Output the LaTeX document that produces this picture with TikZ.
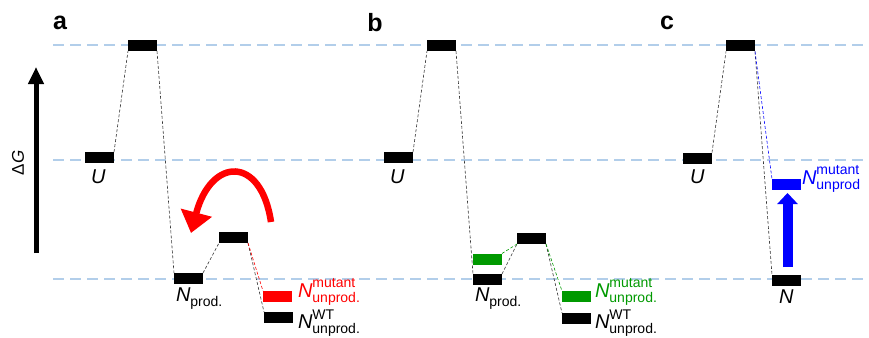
\documentclass[tikz,border=0pt]{standalone}
\usepackage{fontspec}
\setmainfont{Liberation Sans}
\usetikzlibrary{arrows.meta}

\definecolor{guideblue}{RGB}{178,206,234}
\definecolor{mutred}{RGB}{255,0,0}
\definecolor{mutgreen}{RGB}{0,153,0}
\definecolor{mutblue}{RGB}{0,0,255}

% italic state letter, and the small upright indices beside it
\newcommand{\stateN}[1]{{\fontsize{20}{20}\selectfont\itshape #1}}
\newcommand{\smallidx}[1]{{\fontsize{14}{14}\selectfont #1}}
\newcommand{\indexpair}[2]{\rlap{\raisebox{9.5pt}{\smallidx{#1}}}\raisebox{-5pt}{\smallidx{#2}}}
\newcommand{\lowidx}[1]{\raisebox{-5pt}{\smallidx{#1}}}

\begin{document}
\begin{tikzpicture}[x=1pt,y=-1pt,
  level/.style={fill=#1, draw=none, minimum width=29pt, minimum height=11pt,
                inner sep=0pt, outer sep=0pt},
  level/.default=black,
  guide/.style={guideblue, line width=2pt, dash pattern=on 11pt off 6pt},
  link/.style={#1, line width=0.6pt, dash pattern=on 3pt off 2pt},
  link/.default=black!80,
  txt/.style={inner sep=0pt, outer sep=0pt, anchor=base west},
  panel/.style={inner sep=0pt, font=\fontsize{25}{25}\selectfont\bfseries}]

\useasboundingbox (0,0) rectangle (869,337);

% horizontal reference energies
\coordinate (gTopL) at (53,45);  \coordinate (gTopR) at (869,45);
\coordinate (gMidL) at (53,160); \coordinate (gMidR) at (869,160);
\coordinate (gBotL) at (53,279); \coordinate (gBotR) at (869,279);
\draw[guide] (gTopL) -- (gTopR);
\draw[guide] (gMidL) -- (gMidR);
\draw[guide] (gBotL) -- (gBotR);

% free-energy axis
\coordinate (dGbot) at (36,253);
\coordinate (dGtop) at (36,67);
\draw[line width=5pt, -{Triangle[length=17pt,width=15pt]}] (dGbot) -- (dGtop);
\node[rotate=90, inner sep=0pt, font=\fontsize{17}{17}\selectfont] (dG) at (18,163) {Δ\textit{G}};

% panel letters
\node[panel] (pa) at (60,23) {a};
\node[panel] (pb) at (375,23) {b};
\node[panel] (pc) at (667,23) {c};

% ---------------- panel a ----------------
\node[level] (Ua)  at (99.5,157.5) {};
\node[level] (Ta)  at (142.5,45.5) {};
\node[level] (Pa)  at (188.5,278.5) {};
\node[level] (T2a) at (233.5,237.5) {};
\node[level=mutred] (Ma) at (277.5,296.5) {};
\node[level] (Wa)  at (278.5,317.5) {};

\draw[link] (Ua.north east) -- (Ta.south west);
\draw[link] (Ta.south east) -- (Pa.north west);
\draw[link] (Pa.north east) -- (T2a.south west);
\draw[link] (T2a.south east) -- (Wa.north west);
\draw[link=mutred] (T2a.south east) -- (Ma.north west);

\node[txt] (labUa) at (91,183) {\stateN{U}};
\node[txt] (labPa) at (176,301) {\stateN{N}\lowidx{prod.}};
\node[txt, text=mutred] (labMa) at (298,297) {\stateN{N}\indexpair{mutant}{unprod.}};
\node[txt] (labWa) at (298,328.5) {\stateN{N}\indexpair{WT}{unprod.}};

\coordinate (swS) at (271,222);
\coordinate (swE) at (191,233);
\draw[mutred, line width=6.5pt, -{Triangle[length=21pt,width=31pt]}]
  (swS) .. controls (261,155) and (211,157) .. (swE);

% ---------------- panel b ----------------
\node[level] (Ub)  at (398.5,157.5) {};
\node[level] (Tb)  at (441.5,45.5) {};
\node[level] (Pb)  at (487.5,279.5) {};
\node[level=mutgreen] (Gb) at (487.5,259) {};
\node[level] (T2b) at (531.5,238.5) {};
\node[level=mutgreen] (Mb) at (576.5,296.5) {};
\node[level] (Wb)  at (576.5,318.5) {};

\draw[link] (Ub.north east) -- (Tb.south west);
\draw[link] (Tb.south east) -- (Pb.north west);
\draw[link] (Pb.north east) -- (T2b.south west);
\draw[link=mutgreen] (Gb.north east) -- (T2b.south west);
\draw[link] (T2b.south east) -- (Wb.north west);
\draw[link=mutgreen] (T2b.south east) -- (Mb.north west);

\node[txt] (labUb) at (390,183) {\stateN{U}};
\node[txt] (labPb) at (475,301) {\stateN{N}\lowidx{prod.}};
\node[txt, text=mutgreen] (labMb) at (595,297) {\stateN{N}\indexpair{mutant}{unprod.}};
\node[txt] (labWb) at (595,328.5) {\stateN{N}\indexpair{WT}{unprod.}};

% ---------------- panel c ----------------
\node[level] (Uc) at (697.5,158) {};
\node[level] (Tc) at (740.5,46) {};
\node[level] (Nc) at (786.5,280.5) {};
\node[level=mutblue] (Bc) at (786.5,184.5) {};

\draw[link] (Uc.north east) -- (Tc.south west);
\draw[link] (Tc.south east) -- (Nc.north west);
\draw[link=mutblue] (Tc.south east) -- (Bc.north west);

\node[txt] (labUc) at (690,183) {\stateN{U}};
\node[txt] (labNc) at (779,303) {\stateN{N}};
\node[txt, text=mutblue] (labBc) at (802,184) {\stateN{N}\indexpair{mutant}{unprod}};

\coordinate (upS) at (787.5,267);
\coordinate (upE) at (787.5,193);
\draw[mutblue, line width=10pt, -{Triangle[length=11pt,width=20pt]}] (upS) -- (upE);

\end{tikzpicture}
\end{document}
